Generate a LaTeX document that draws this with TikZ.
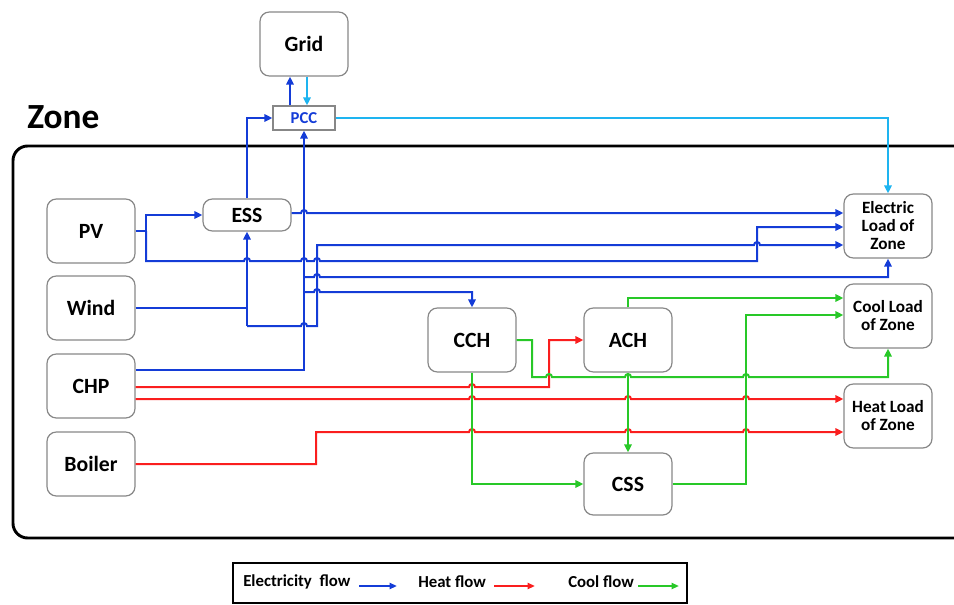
\documentclass[tikz,border=0pt]{standalone}
\usepackage{fontspec}
\setmainfont{Carlito}
\usetikzlibrary{arrows.meta}
\definecolor{eblue}{RGB}{20,60,215}
\definecolor{lblue}{RGB}{30,180,240}
\definecolor{hred}{RGB}{250,30,30}
\definecolor{cgreen}{RGB}{40,200,40}
\definecolor{bgray}{RGB}{135,135,135}
\newcommand\bp[2]{-- ({#1-3},#2) arc[start angle=180,end angle=0,radius=2.25pt]}
\begin{document}
\begin{tikzpicture}[x=0.75pt,y=-0.75pt,
  box/.style={draw=bgray,line width=0.9pt,rounded corners=7pt,inner sep=0pt,
    minimum width=66pt,minimum height=48pt,
    font=\fontsize{16.3}{18}\selectfont\bfseries},
  loadbox/.style={box,align=center,
    font=\fontsize{12.9}{13.5}\selectfont\bfseries},
  ln/.style={line width=1.5pt},
  tip/.style={-{Triangle[length=6pt,width=5.5pt]}},
  eflow/.style={ln,eblue,tip},
  lflow/.style={ln,lblue,tip},
  hflow/.style={ln,hred,tip},
  cflow/.style={ln,cgreen,tip},
  legtext/.style={anchor=west,inner sep=0pt,font=\fontsize{12.6}{14}\selectfont\bfseries},
  legarrow/.style={line width=1.5pt,-{Triangle[length=5.5pt,width=4.5pt]}}
]
\useasboundingbox (0,0) rectangle (954,604);
\clip (0,0) rectangle (954,604);

% zone frame and title
\draw[line width=2.2pt,rounded corners=11pt] (13,146) rectangle (990,538);
\node[anchor=west,inner sep=0pt,font=\fontsize{26.5}{30}\selectfont\bfseries] (zone) at (27,117.5) {Zone};

% nodes
\node[box] (Grid) at (304,44) {Grid};
\node[draw=bgray,line width=0.9pt,inner sep=0pt,minimum width=46.5pt,minimum height=18pt,
      text=eblue,font=\fontsize{12.5}{14}\selectfont\bfseries] (PCC) at (304,118) {PCC};
\node[box] (PV) at (91,231) {PV};
\node[box,minimum height=24pt] (ESS) at (247,215) {ESS};
\node[box] (Wind) at (91,308) {Wind};
\node[box] (CHP) at (91,386) {CHP};
\node[box] (Boiler) at (91,464) {Boiler};
\node[box] (CCH) at (472,340) {CCH};
\node[box] (ACH) at (628,340) {ACH};
\node[box,minimum height=46.5pt] (CSS) at (628,484) {CSS};
\node[loadbox] (EL) at (888,226) {Electric\\Load of\\Zone};
\node[loadbox] (CL) at (888,316) {Cool Load\\of Zone};
\node[loadbox] (HL) at (888,416) {Heat Load\\of Zone};

% grid / PCC
\draw[eflow] (PCC.north -| 290,0) -- (Grid.south -| 290,0);
\draw[lflow] (Grid.south -| 307,0) -- (PCC.north -| 307,0);
\draw[lflow] (PCC.east) -| (EL.north);

% electricity
\draw[eflow] (PV.east) -- (146,231) |- (ESS.west);
\draw[eflow] (146,231) -- (146,261) \bp{247}{261} \bp{304}{261} \bp{317}{261} -- (757,261) -- (757,227) -- (EL.west |- 0,227);
\draw[eflow] (ESS.east |- 0,213) \bp{304}{213} -- (EL.west |- 0,213);
\draw[eflow] (ESS.north) |- (PCC.west);
\draw[ln,eblue] (Wind.east) -- (247,308);
\draw[eflow] (247,326) -- (ESS.south);
\draw[eflow] (247,326) \bp{304}{326} -- (317,326) -- (317,245) \bp{757}{245} -- (EL.west |- 0,245);
\draw[eflow] (CHP.east |- 0,370) -| (PCC.south);
\draw[eflow] (304,277) \bp{317}{277} -- (888,277) -- (EL.south);
\draw[eflow] (304,292) \bp{317}{292} -- (472,292) -- (CCH.north);

% heat
\draw[hflow] (CHP.east |- 0,387) \bp{472}{387} -- (549,387) -- (549,340) -- (ACH.west);
\draw[hflow] (CHP.east |- 0,399) \bp{472}{399} \bp{628}{399} \bp{746}{399} -- (HL.west |- 0,399);
\draw[hflow] (Boiler.east) -- (316,464) -- (316,432) \bp{472}{432} \bp{628}{432} \bp{746}{432} -- (HL.west |- 0,432);

% cool
\draw[cflow] (CCH.east) -- (532,340) -- (532,377) \bp{549}{377} \bp{628}{377} \bp{746}{377} -- (888,377) -- (CL.south);
\draw[cflow] (ACH.north) |- (CL.west |- 0,298);
\draw[cflow] (ACH.south) -- (CSS.north);
\draw[cflow] (CCH.south) |- (CSS.west);
\draw[cflow] (CSS.east) -- (746,484) -- (746,315) -- (CL.west |- 0,315);

% legend
\node[draw=black,line width=1.4pt,inner sep=0pt,minimum width=340.5pt,minimum height=29.5pt] (legend) at (460,583) {};
\node[legtext] (le) at (243,582) {Electricity~~flow};
\node[legtext] (lh) at (418,582) {Heat flow};
\node[legtext] (lc) at (568,582) {Cool flow};
\coordinate (ea) at (359,586); \coordinate (eb) at (397,586);
\coordinate (ha) at (494,586); \coordinate (hb) at (535,586);
\coordinate (ca) at (638,586); \coordinate (cb) at (679,586);
\draw[legarrow,eblue] (ea) -- (eb);
\draw[legarrow,hred] (ha) -- (hb);
\draw[legarrow,cgreen] (ca) -- (cb);
\end{tikzpicture}
\end{document}
